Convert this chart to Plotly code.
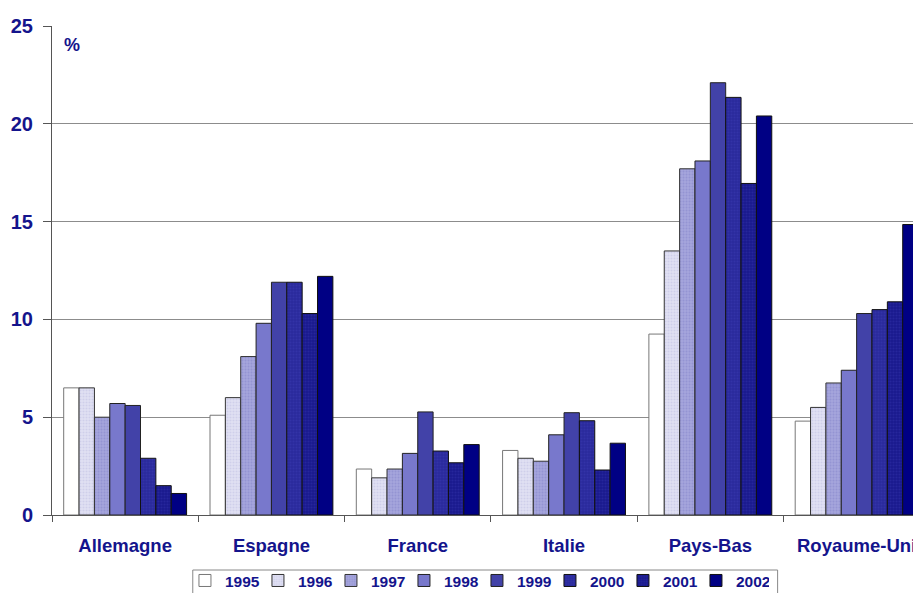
import plotly.graph_objects as go

pays = ["Allemagne", "Espagne", "France", "Italie", "Pays-Bas", "Royaume-Uni"]
annees = ["1995", "1996", "1997", "1998", "1999", "2000", "2001", "2002"]

v1995 = [6.5, 5.1, 2.35, 3.3, 9.25, 4.8]
v1996 = [6.5, 6.0, 1.9, 2.9, 13.5, 5.5]
v1997 = [5.0, 8.1, 2.35, 2.75, 17.7, 6.75]
v1998 = [5.7, 9.8, 3.15, 4.1, 18.1, 7.4]
v1999 = [5.6, 11.9, 5.27, 5.23, 22.1, 10.3]
v2000 = [2.9, 11.9, 3.27, 4.82, 21.35, 10.5]
v2001 = [1.5, 10.3, 2.67, 2.3, 16.95, 10.9]
v2002 = [1.1, 12.2, 3.6, 3.67, 20.4, 14.85]
valeurs = [v1995, v1996, v1997, v1998, v1999, v2000, v2001, v2002]

couleurs = ["#FFFFFF", "#E0E0F3", "#A4A4DC", "#7878CC", "#4242A8", "#2A2A9C", "#1A1A8E", "#000084"]
points = [None, "#BEBEE2", "#8484C8", None, None, "#3C3CB2", "#3232AA", None]
bords = ["#777777", "#333333", "#333333", "#222222", "#222222", "#111111", "#111111", "#111111"]

texte = "#14148C"

fig = go.Figure()
for an, vals, c, p, b in zip(annees, valeurs, couleurs, points, bords):
    marker = dict(color=c, line=dict(color=b, width=1))
    if p:
        marker["pattern"] = dict(shape=".", bgcolor=c, fgcolor=p, size=3, solidity=0.35)
    fig.add_trace(go.Bar(x=pays, y=vals, name=an, marker=marker))

fig.add_annotation(text="<b>%</b>", x=0.012, y=0.985, xref="paper", yref="paper",
                   showarrow=False, xanchor="left", yanchor="top",
                   font=dict(size=18, color=texte))

# cadre de la légende
fig.add_shape(type="rect", xref="paper", yref="paper",
              x0=0.162, x1=0.835, y0=-0.1125, y1=-0.3,
              line=dict(color="#888888", width=1), fillcolor="rgba(0,0,0,0)")

# la page ajoute 8 px de marge autour de la figure
fig.update_layout(
    width=913, height=585,
    margin=dict(l=44, r=0, t=18, b=78, autoexpand=False),
    paper_bgcolor="white", plot_bgcolor="white",
    barmode="group", bargap=0.16, bargroupgap=0,
    font=dict(family="Liberation Sans, Arial", color=texte),
    legend=dict(orientation="h", x=0.153, xanchor="left", y=-0.100, yanchor="top",
                bgcolor="rgba(0,0,0,0)", borderwidth=0,
                font=dict(size=15.5, color=texte, weight="bold"),
                entrywidth=28, entrywidthmode="pixels", itemwidth=30,
                traceorder="normal", tracegroupgap=0),
    xaxis=dict(range=[-0.5, 5.44], showline=True, linecolor="#555555", automargin=False,
               ticks="outside", tickson="boundaries", ticklen=6, tickcolor="#555555",
               ticklabelstandoff=14,
               tickfont=dict(size=18.5, color=texte, weight="bold"), showgrid=False),
    yaxis=dict(range=[0, 25], dtick=5, showline=True, linecolor="#555555", automargin=False,
               ticks="outside", ticklen=8, tickcolor="#555555", ticklabelstandoff=6,
               showgrid=True, gridcolor="#8C8C8C", gridwidth=1, zeroline=False,
               tickfont=dict(size=20, color=texte, weight="bold")),
)

fig.write_html("out.html")
